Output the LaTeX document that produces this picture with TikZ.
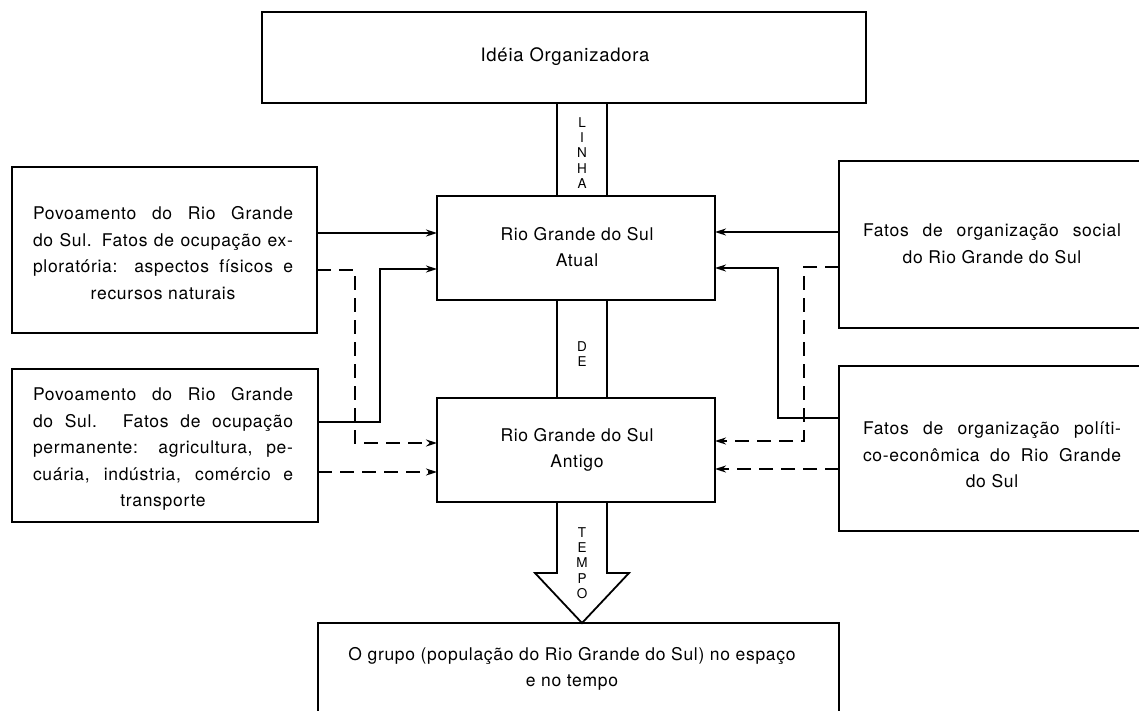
\documentclass[tikz,border=0pt]{standalone}
\usepackage{fontspec}
\setmainfont{TeX Gyre Heros}[LetterSpace=4]
\usetikzlibrary{arrows.meta}
\newcommand\jl[2][260pt]{\makebox[#1][s]{#2}}
\begin{document}
\begin{tikzpicture}[x=1pt,y=-1pt,
  ln/.style={line width=1.8pt},
  box/.style={draw, ln, inner sep=0pt, outer sep=0pt, anchor=north west},
  txt/.style={inner sep=0pt, align=center, font=\fontsize{17.5}{26.5}\selectfont},
  band/.style={inner sep=0pt, align=center, font=\fontsize{13.5}{15.3}\selectfont},
  sol/.style={ln, -{Stealth[length=11pt,width=7pt]}},
  dsh/.style={sol, dash pattern=on 14pt off 8pt}]
\fill[white] (0,0) rectangle (1139,710);
\useasboundingbox (0,0) rectangle (1139,710);
% boxes
\node[box, minimum width=604pt, minimum height=91pt] (top) at (262,12) {};
\node[box, minimum width=278pt, minimum height=104pt] (atual) at (437,196) {};
\node[box, minimum width=278pt, minimum height=104pt] (antigo) at (437,398) {};
\node[box, minimum width=305pt, minimum height=166pt] (lt) at (12,167) {};
\node[box, minimum width=306pt, minimum height=153pt] (lb) at (12,369) {};
\node[box, minimum width=310pt, minimum height=167pt] (rt) at (839,161) {};
\node[box, minimum width=310pt, minimum height=165pt] (rb) at (839,366) {};
\node[box, minimum width=521pt, minimum height=110pt] (bot) at (318,623) {};
% texts
\node[txt] (toptxt) at (565,57) {\fontsize{18.5}{26.5}\selectfont Idéia Organizadora};
\node[txt] (atualtxt) at (577,247) {Rio Grande do Sul\\Atual};
\node[txt] (antigotxt) at (577,450) {Rio Grande do Sul\\Antigo};
\node[txt] (lttxt) at (163,253) {\jl{Povoamento do Rio Grande}\\\jl{do Sul. Fatos de ocupação ex-}\\\jl{ploratória: aspectos físicos e}\\recursos naturais};
\node[txt] (lbtxt) at (163,449) {\jl{Povoamento do Rio Grande}\\\jl{do Sul. Fatos de ocupação}\\\jl{permanente: agricultura, pe-}\\\jl{cuária, indústria, comércio e}\\transporte};
\node[txt] (rttxt) at (992,244) {\jl[258pt]{Fatos de organização social}\\do Rio Grande do Sul};
\node[txt] (rbtxt) at (992,455) {\jl[258pt]{Fatos de organização políti-}\\\jl[258pt]{co-econômica do Rio Grande}\\do Sul};
\node[txt] (bottxt) at (572,669) {O grupo (população do Rio Grande do Sul) no espaço\\e no tempo};
% bands
\coordinate (bl) at (557,0);
\coordinate (br) at (607,0);
\coordinate (bc) at (582,0);
\draw[ln] (bl |- top.south) -- (bl |- atual.north);
\draw[ln] (br |- top.south) -- (br |- atual.north);
\draw[ln] (bl |- atual.south) -- (bl |- antigo.north);
\draw[ln] (br |- atual.south) -- (br |- antigo.north);
\draw[ln, line join=miter] (bl |- antigo.south) -- (557,573) -- (535,573) -- (bc |- bot.north) -- (629,573) -- (607,573) -- (br |- antigo.south);
\node[band] (linha) at (582,153) {L\\I\\N\\H\\A};
\node[band] (de) at (582,354) {D\\E};
\node[band] (tempo) at (582,563) {T\\E\\M\\P\\O};
% connector levels
\coordinate (ya1) at (0,233);
\coordinate (ya2) at (0,269);
\coordinate (yl2) at (0,422);
\coordinate (yd1) at (0,270);
\coordinate (yd2) at (0,443);
\coordinate (yd3) at (0,472);
\coordinate (xs) at (380,0);
\coordinate (xd) at (355,0);
\coordinate (yr1) at (0,232);
\coordinate (yr2) at (0,268);
\coordinate (yr3) at (0,418);
\coordinate (yr4) at (0,267);
\coordinate (yr5) at (0,441);
\coordinate (yr6) at (0,469);
\coordinate (xrs) at (778,0);
\coordinate (xrd) at (804,0);
% left connectors
\draw[sol] (lt.east |- ya1) -- (atual.west |- ya1);
\draw[sol] (lb.east |- yl2) -- (xs |- yl2) -- (xs |- ya2) -- (atual.west |- ya2);
\draw[dsh] (lt.east |- yd1) -- (xd |- yd1) -- (xd |- yd2) -- (antigo.west |- yd2);
\draw[dsh] (lb.east |- yd3) -- (antigo.west |- yd3);
% right connectors
\draw[sol] (rt.west |- yr1) -- (atual.east |- yr1);
\draw[sol] (rb.west |- yr3) -- (xrs |- yr3) -- (xrs |- yr2) -- (atual.east |- yr2);
\draw[dsh] (rt.west |- yr4) -- (xrd |- yr4) -- (xrd |- yr5) -- (antigo.east |- yr5);
\draw[dsh] (rb.west |- yr6) -- (antigo.east |- yr6);
\end{tikzpicture}
\end{document}
